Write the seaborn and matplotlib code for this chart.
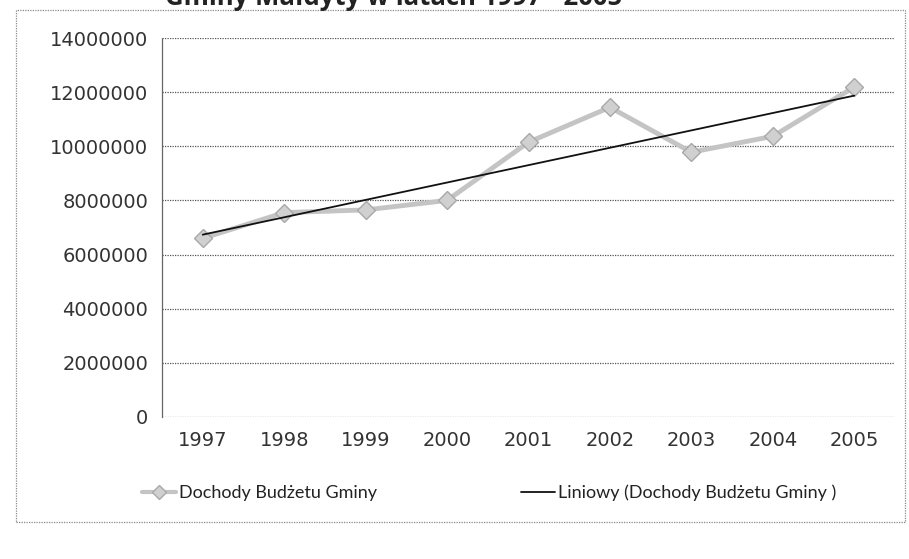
import numpy as np
import pandas as pd
import seaborn as sns
import matplotlib.pyplot as plt
from matplotlib.patches import Rectangle
from matplotlib.lines import Line2D

years = ["1997", "1998", "1999", "2000", "2001", "2002", "2003", "2004", "2005"]
income = [6600000, 7550000, 7650000, 8000000, 10150000, 11440000, 9780000, 10370000, 12190000]
yticks = [0, 2000000, 4000000, 6000000, 8000000, 10000000, 12000000, 14000000]

series_label = "Dochody Budżetu Gminy"
trend_label = "Liniowy (Dochody Budżetu Gminy )"
title_text = "Gminy Małdyty w latach 1997 - 2005"

sns.set_theme(style="white")
plt.rcParams['font.family'] = ['Open Sans', 'DejaVu Sans']

W, H = 909, 559
fig = plt.figure(figsize=(W / 100, H / 100), dpi=100)
ax = fig.add_axes([162 / W, 1 - 417 / H, (895 - 162) / W, (417 - 38) / H])

idx = np.arange(len(years))
df = pd.DataFrame({"idx": idx, "income": income})

# linear trend (Excel "Liniowy")
coef = np.polyfit(idx, income, 1)
df["trend"] = np.polyval(coef, idx)

grey = "#c4c4c4"
sns.lineplot(data=df, x="idx", y="income", ax=ax, color=grey, linewidth=3.5,
             marker="D", markersize=9, markerfacecolor="#d0d0d0",
             markeredgecolor="#a8a8a8", markeredgewidth=1, zorder=3)
sns.lineplot(data=df, x="idx", y="trend", ax=ax, color="#111111",
             linewidth=1.3, zorder=4)

tick_font = dict(family="DejaVu Sans", size=14, color="#333333")
ax.set_xlim(-0.5, len(years) - 0.5)
ax.set_ylim(0, 14000000)
ax.set_yticks(yticks)
ax.set_yticklabels([str(v) for v in yticks], fontdict=tick_font)
ax.set_xticks(idx)
ax.set_xticklabels(years, fontdict=tick_font)
ax.tick_params(axis="y", pad=10, length=0)
ax.tick_params(axis="x", pad=10, length=0)
ax.set_xlabel("")
ax.set_ylabel("")

for v in yticks:
    ax.axhline(v, color="#555555", linewidth=0.9, linestyle=(0, (1, 1)), zorder=1)
for s in ["top", "right", "bottom"]:
    ax.spines[s].set_visible(False)
ax.spines["left"].set_color("#666666")
ax.spines["left"].set_linestyle((0, (1, 1)))
ax.spines["left"].set_linewidth(0.9)

handles = [
    Line2D([], [], color=grey, linewidth=3, marker="D", markersize=7,
           markerfacecolor="#d0d0d0", markeredgecolor="#a8a8a8"),
    Line2D([], [], color="#111111", linewidth=1.3),
]
fig.legend(handles, [series_label, trend_label], loc="center",
           bbox_to_anchor=(489 / W, 1 - 493 / H), ncol=2, frameon=False,
           prop={"family": "Lato", "size": 13}, handlelength=1.9,
           handletextpad=0.15, columnspacing=8.0, labelcolor="#222222")

# outer chart frame
fig.add_artist(Rectangle((16 / W, 1 - 522 / H), (905 - 16) / W, (522 - 10) / H,
                         transform=fig.transFigure, fill=False,
                         edgecolor="#888888", linewidth=0.9,
                         linestyle=(0, (1, 1))))

# title cut off by the top edge of the scan
fig.text(165 / W, 1 - 5 / H, title_text, ha="left", va="baseline",
         fontsize=18.5, fontweight="bold", color="#222222")

fig.savefig("out.png", dpi=100)
